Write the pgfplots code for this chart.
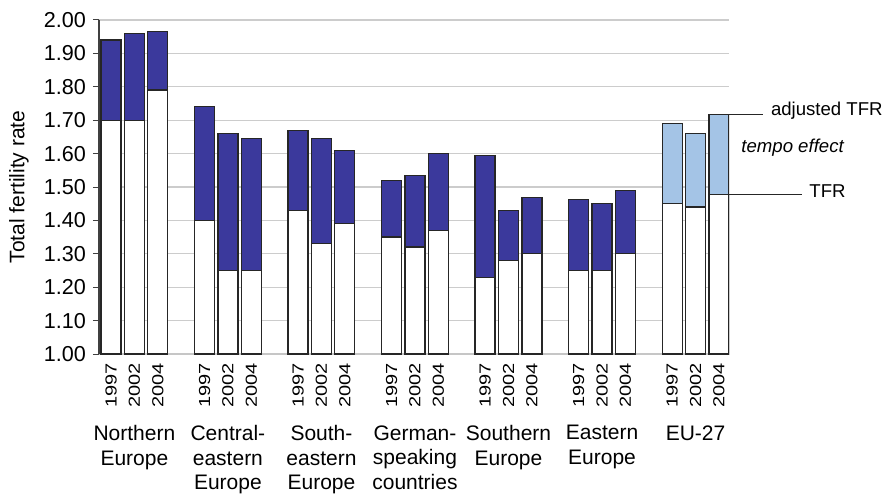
\documentclass[border=0pt]{standalone}
\usepackage{fontspec}
\setmainfont{Liberation Sans}
\usepackage{graphicx}
\usepackage{pgfplots}
\pgfplotsset{compat=1.18}
\definecolor{darkbar}{RGB}{59,57,156}
\definecolor{lightbar}{RGB}{164,196,230}
\newcommand\yr[1]{\scalebox{1}[0.8]{#1}}
\begin{document}
\begin{tikzpicture}
\useasboundingbox (-49.5pt,-69.5pt) rectangle (392pt,177pt);
\begin{axis}[
  at={(0,0)}, anchor=south west,
  scale only axis, width=315pt, height=167pt,
  xmin=-0.513, xmax=26.43, ymin=1, ymax=2,
  ytick={1,1.1,1.2,1.3,1.4,1.5,1.6,1.7,1.8,1.9,2},
  yticklabel style={font=\fontsize{10.8}{13}\selectfont},
  /pgf/number format/fixed, /pgf/number format/fixed zerofill, /pgf/number format/precision=2, /pgf/number format/assume math mode=true,
  xtick={0,1,2,4,5,6,8,9,10,12,13,14,16,17,18,20,21,22,24,25,26},
  xticklabels={\yr{1997},\yr{2002},\yr{2004},\yr{1997},\yr{2002},\yr{2004},\yr{1997},\yr{2002},\yr{2004},\yr{1997},\yr{2002},\yr{2004},\yr{1997},\yr{2002},\yr{2004},\yr{1997},\yr{2002},\yr{2004},\yr{1997},\yr{2002},\yr{2004}},
  xticklabel style={rotate=90, anchor=east, inner sep=1.5pt, font=\fontsize{10}{12}\selectfont},
  ymajorgrids, grid style={draw=gray!40, line width=0.6pt},
  axis lines*=left,
  x axis line style={gray!45, line width=0.6pt},
  y axis line style={black!75, line width=0.6pt},
  tick align=outside, major tick length=3pt,
  ytick style={black!75, line width=0.5pt},
  xtick style={draw=none},
  ylabel={Total fertility rate},
  ylabel style={at={(axis description cs:-0.127,0.5)}, anchor=center, font=\fontsize{10.5}{12}\selectfont},
  clip mode=individual,
]
% adjusted TFR (dark blue part)
\addplot[ybar, bar width=0.855, bar shift=0pt, fill=darkbar, draw=black!85, line width=0.65pt] coordinates {
 (0,1.94) (1,1.96) (2,1.965)
 (4,1.74) (5,1.66) (6,1.645)
 (8,1.67) (9,1.645) (10,1.61)
 (12,1.52) (13,1.535) (14,1.60)
 (16,1.595) (17,1.43) (18,1.468)
 (20,1.462) (21,1.45) (22,1.49)
};
% adjusted TFR (EU-27, light blue)
\addplot[ybar, bar width=0.855, bar shift=0pt, fill=lightbar, draw=black!85, line width=0.65pt] coordinates {
 (24,1.69) (25,1.66) (26,1.718)
};
% TFR (white part)
\addplot[ybar, bar width=0.855, bar shift=0pt, fill=white, draw=black!85, line width=0.65pt] coordinates {
 (0,1.70) (1,1.70) (2,1.79)
 (4,1.40) (5,1.25) (6,1.25)
 (8,1.43) (9,1.33) (10,1.39)
 (12,1.35) (13,1.32) (14,1.37)
 (16,1.23) (17,1.28) (18,1.30)
 (20,1.25) (21,1.25) (22,1.30)
 (24,1.45) (25,1.44) (26,1.478)
};
% annotations
\draw[black!85, line width=0.6pt] (axis cs:26.43,1.718) -- ++(17pt,0pt);
\draw[black!85, line width=0.6pt] (axis cs:26.43,1.478) -- ++(36.5pt,0pt);
\node[anchor=base west, inner sep=0pt, xshift=20.8pt, font=\fontsize{9.3}{11}\selectfont] at (axis cs:26.43,1.713) {adjusted TFR};
\node[anchor=base west, inner sep=0pt, xshift=6pt, font=\fontsize{9.3}{11}\selectfont\itshape] at (axis cs:26.43,1.603) {tempo effect};
\node[anchor=base west, inner sep=0pt, xshift=40pt, font=\fontsize{9.3}{11}\selectfont] at (axis cs:26.43,1.469) {TFR};
% group labels
\tikzset{grp/.style={anchor=north, align=center, inner sep=0pt, yshift=-35.5pt, font=\fontsize{10.5}{12.3}\selectfont}}
\node[grp] at (axis cs:1,1) {Northern\\Europe};
\node[grp] at (axis cs:5,1) {Central-\\eastern\\Europe};
\node[grp] at (axis cs:9,1) {South-\\eastern\\Europe};
\node[grp] at (axis cs:13,1) {German-\\speaking\\countries};
\node[grp] at (axis cs:17,1) {Southern\\Europe};
\node[grp] at (axis cs:21,1) {Eastern\\Europe};
\node[grp] at (axis cs:25,1) {EU-27};
\end{axis}
\end{tikzpicture}
\end{document}
